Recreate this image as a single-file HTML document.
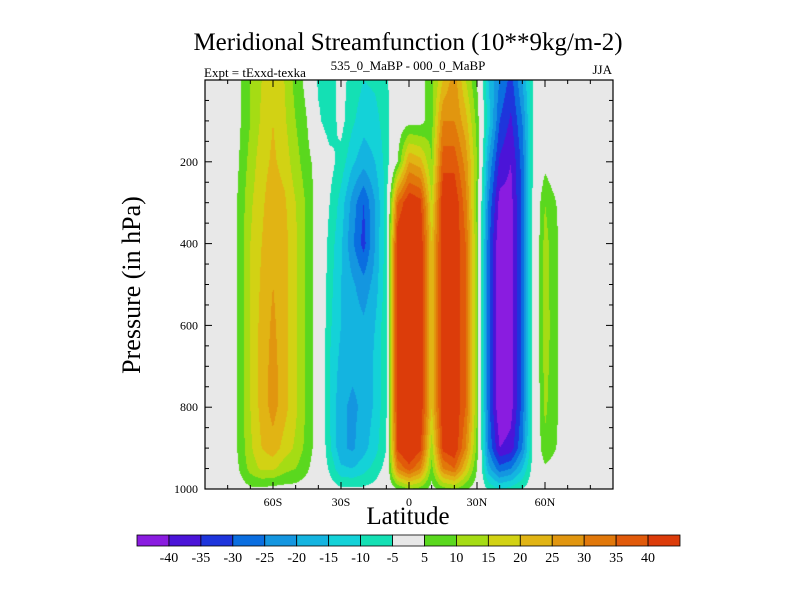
<!DOCTYPE html>
<html><head><meta charset="utf-8">
<style>
body{margin:0;background:#fff;width:800px;height:600px;overflow:hidden;position:relative;font-family:"Liberation Serif",serif;color:#000}
.t{position:absolute;white-space:nowrap}
</style></head><body>
<div class="t" style="left:0;width:816px;text-align:center;top:29px;font-size:25px">Meridional Streamfunction (10**9kg/m-2)</div>
<div class="t" style="left:204px;top:65px;font-size:13px">Expt = tExxd-texka</div>
<div class="t" style="left:0;width:816px;text-align:center;top:58px;font-size:13px">535_0_MaBP - 000_0_MaBP</div>
<div class="t" style="left:580px;width:32px;text-align:right;top:62px;font-size:13px">JJA</div>
<canvas id="cv" width="408" height="409" style="position:absolute;left:205px;top:80px"></canvas>
<svg id="sv" width="800" height="600" style="position:absolute;left:0;top:0"></svg>
<div class="t" style="left:132px;top:285px;font-size:26px;transform:translate(-50%,-50%) rotate(-90deg)">Pressure (in hPa)</div>
<div class="t" style="left:0;width:816px;text-align:center;top:503px;font-size:25px">Latitude</div>
<script>
const lats=[-90,-85,-80,-75,-70,-65,-60,-55,-50,-45,-40,-35,-30,-25,-20,-15,-10,-5,0,5,10,15,20,25,30,35,40,45,50,55,60,65,70,75,80,85,90];
const levels=[0,100,200,300,400,500,600,700,800,900,950,1000];
const field=[
[0,0,0,4,10,15,18,15,8,3,-6,-8,-3,-7,-10,-9,-6,0,3,3,8,20,28,15,5,-15,-25,-32,-20,-4,0,0,0,0,0,0,0],
[0,0,0,4,10,16,20,16,10,5,-4,-8,-3,-9,-13,-12,-7,1,3,3,8,30,30,22,8,-12,-30,-36,-25,-4,0,0,0,0,0,0,0],
[0,0,0,5,12,18,21,18,12,7,2,-3,-7,-14,-18,-15,-8,5,25,22,10,38,38,28,10,-20,-36,-40,-28,-3,3,0,0,0,0,0,0],
[0,0,0,6,14,19,23,21,15,9,2,-5,-12,-22,-30,-20,-8,35,45,42,15,45,45,32,8,-25,-42,-42,-28,-2,10,5,0,0,0,0,0],
[0,0,0,6,15,20,24,22,16,9,2,-7,-14,-24,-32,-20,-7,45,50,45,20,45,45,35,10,-28,-45,-42,-28,-2,12,6,0,0,0,0,0],
[0,0,0,6,15,21,25,22,16,9,2,-8,-15,-19,-23,-18,-7,45,50,45,20,45,45,35,10,-28,-45,-42,-28,-2,12,6,0,0,0,0,0],
[0,0,0,6,15,22,26,22,16,9,2,-9,-15,-17,-19,-15,-6,45,50,45,20,45,45,35,10,-28,-45,-42,-28,-2,13,6,0,0,0,0,0],
[0,0,0,6,15,22,27,22,16,9,2,-10,-17,-19,-19,-14,-6,45,50,45,20,45,45,35,10,-28,-45,-42,-28,-2,12,6,0,0,0,0,0],
[0,0,0,6,15,22,27,22,16,9,2,-10,-19,-21,-19,-14,-6,45,50,45,20,45,45,35,10,-28,-45,-42,-28,-2,11,6,0,0,0,0,0],
[0,0,0,6,14,20,23,18,14,8,2,-9,-19,-21,-17,-12,-5,42,48,42,12,42,45,30,8,-25,-40,-38,-25,-2,9,5,0,0,0,0,0],
[0,0,0,5,12,16,16,12,10,6,1,-6,-14,-15,-12,-8,-3,30,38,30,8,30,35,20,5,-18,-28,-25,-15,-2,4,2,0,0,0,0,0],
[0,0,0,2,4,4,3,3,3,2,0,-2,-4,-4,-4,-3,0,5,10,8,3,8,10,6,2,-6,-10,-8,-5,-1,0,0,0,0,0,0,0]];
const colorLevels=[-40,-35,-30,-25,-20,-15,-10,-5,5,10,15,20,25,30,35,40];
const colorbarLabels=["-40","-35","-30","-25","-20","-15","-10","-5","5","10","15","20","25","30","35","40"];
const xTickLabels=["60S","30S","0","30N","60N"];
const xTickValues=[-60,-30,0,30,60];
const yTickValues=[200,400,600,800,1000];
const palette=["#8a1ce0","#4b14d8","#1e35dc","#0a6ee0","#1496e0","#14b4e0","#14d2d8","#14e0b4","#e8e8e8","#5ad81e","#a5dc14","#d2d214","#e1b414","#e1960f","#e1780a","#e15a0a","#dc3c0a"];
const PL=205,PT=80,PW=408,PH=409;
const xs=v=>PL+(v+90)/180*PW, ys=p=>PT+p/1000*PH;
function interp(lat,p){
  let i=0;while(i<lats.length-2&&lats[i+1]<lat)i++;
  let j=0;while(j<levels.length-2&&levels[j+1]<p)j++;
  const tx=(lat-lats[i])/(lats[i+1]-lats[i]), ty=(p-levels[j])/(levels[j+1]-levels[j]);
  const a=field[j][i],b=field[j][i+1],c=field[j+1][i],d=field[j+1][i+1];
  return (a*(1-tx)+b*tx)*(1-ty)+(c*(1-tx)+d*tx)*ty;
}
function colorIdx(v){let k=0;while(k<colorLevels.length&&v>=colorLevels[k])k++;return k;}
function hex(h){return [parseInt(h.substr(1,2),16),parseInt(h.substr(3,2),16),parseInt(h.substr(5,2),16)];}
const rgb=palette.map(hex);
const cv=document.getElementById('cv'),ctx=cv.getContext('2d');
const img=ctx.createImageData(PW,PH);
for(let y=0;y<PH;y++)for(let x=0;x<PW;x++){
  const lat=-90+(x+0.5)/PW*180, p=(y+0.5)/PH*1000;
  const c=rgb[colorIdx(interp(lat,p))];const o=(y*PW+x)*4;
  img.data[o]=c[0];img.data[o+1]=c[1];img.data[o+2]=c[2];img.data[o+3]=255;
}
ctx.putImageData(img,0,0);
const NS='http://www.w3.org/2000/svg',sv=document.getElementById('sv');
function el(t,a,txt){const e=document.createElementNS(NS,t);for(const k in a)e.setAttribute(k,a[k]);if(txt!=null)e.textContent=txt;sv.appendChild(e);return e;}
let f=el('rect',{x:PL,y:PT,width:PW,height:PH,fill:'none',stroke:'#000','stroke-width':1.2});


for(let l=-80;l<=80;l+=10){
  const x=xs(l),len=(l%30===0)?7:4;
  el('line',{x1:x,x2:x,y1:PT+PH,y2:PT+PH-len,stroke:'#000'});
  el('line',{x1:x,x2:x,y1:PT,y2:PT+len,stroke:'#000'});
}
for(let p=50;p<1000;p+=50){
  const y=ys(p),len=(p%200===0)?7:4;
  el('line',{x1:PL,x2:PL+len,y1:y,y2:y,stroke:'#000'});
  el('line',{x1:PL+PW,x2:PL+PW-len,y1:y,y2:y,stroke:'#000'});
}
xTickLabels.forEach((s,i)=>{
  const t=el('text',{x:xs(xTickValues[i]),y:PT+PH+17,'text-anchor':'middle','font-size':12,'font-family':'Liberation Serif'},s);
  
  
});
yTickValues.forEach(v=>{
  const t=el('text',{x:PL-7,y:ys(v)+4,'text-anchor':'end','font-size':12,'font-family':'Liberation Serif'},String(v));
  
  
});
const CBL=137,CBR=680,CBT=535,CBH=11,bw=(CBR-CBL)/palette.length;
palette.forEach((c,i)=>{
  const r=el('rect',{x:CBL+i*bw,y:CBT,width:bw,height:CBH,fill:c,stroke:'#000','stroke-width':0.8});
  
  
});
colorbarLabels.forEach((s,i)=>{
  const t=el('text',{x:CBL+(i+1)*bw,y:CBT+27,'text-anchor':'middle','font-size':14,'font-family':'Liberation Serif'},s);
  
  
});
</script>
</body></html>
